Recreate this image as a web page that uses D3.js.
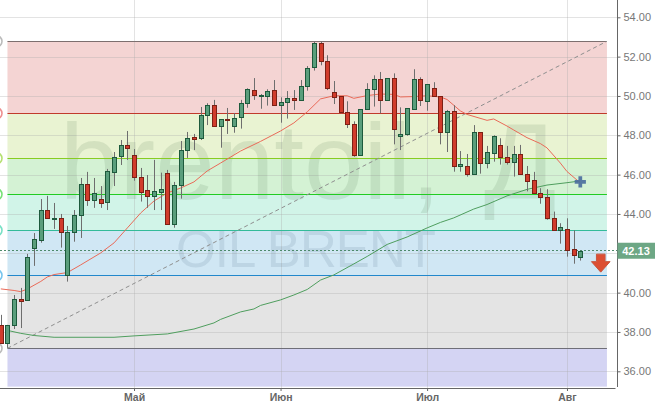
<!DOCTYPE html>
<html><head><meta charset="utf-8">
<script src="https://cdnjs.cloudflare.com/ajax/libs/d3/7.8.5/d3.min.js"></script>
<style>html,body{margin:0;padding:0;background:#fff;overflow:hidden}svg{display:block}text{font-family:"Liberation Sans",Arial,sans-serif}</style>
</head><body><svg id="c" width="664" height="409"></svg>
<script>
const opens=[38.36,37.46,38.32,39.66,39.59,42.24,42.69,44.19,43.75,43.78,40.86,43.10,43.91,45.51,44.68,44.75,44.57,46.10,46.91,47.49,46.98,45.87,45.21,44.88,45.13,46.07,43.48,45.46,47.24,47.91,47.83,49.02,49.53,48.44,48.81,48.44,48.92,49.63,50.29,50.05,50.01,50.29,49.53,49.68,49.88,49.78,50.49,51.46,52.68,51.76,50.19,49.98,49.17,48.56,46.98,49.32,50.34,50.85,49.78,50.90,47.93,48.03,49.32,50.85,49.73,50.39,49.98,48.15,49.22,46.43,46.43,46.02,48.15,46.58,47.09,47.49,46.88,46.63,47.04,46.02,45.71,45.05,44.85,43.78,43.17,43.22,42.21,41.83];
const closes=[37.46,38.36,39.66,39.54,41.80,42.71,44.19,43.80,43.80,43.05,43.07,43.95,45.51,44.68,45.05,44.57,46.17,46.88,47.49,47.32,45.85,45.13,44.88,45.15,45.26,43.48,45.46,47.24,47.85,47.83,49.02,49.53,48.46,48.81,48.74,48.87,49.63,50.34,50.03,50.05,50.24,49.53,49.68,49.88,49.78,50.49,51.41,52.68,51.76,50.39,49.93,49.17,48.56,46.98,49.32,50.34,50.85,49.78,50.90,48.31,48.05,49.37,50.85,49.78,50.59,49.98,48.15,49.22,46.43,46.53,46.02,48.15,46.58,47.14,47.95,46.88,46.63,47.04,46.02,45.66,45.05,44.85,43.78,43.17,43.32,42.15,41.88,42.13];
const highs=[38.87,38.36,39.88,40.24,41.97,43.03,44.76,44.92,44.56,44.00,43.39,44.20,45.83,46.14,45.83,45.42,46.29,47.15,47.76,48.22,47.30,46.34,45.98,46.75,46.10,46.24,45.63,47.71,48.17,48.07,49.44,49.63,49.80,48.81,49.39,49.13,49.80,50.39,50.91,50.10,50.34,50.81,49.93,50.25,50.30,50.81,51.52,52.76,52.76,52.07,50.76,49.98,49.73,48.71,49.32,50.65,51.05,51.22,50.90,51.15,49.42,49.37,51.36,50.95,50.59,50.70,49.98,49.29,49.53,47.20,47.05,48.52,48.15,47.46,48.00,47.85,47.46,47.46,47.51,46.44,46.14,45.31,45.26,44.12,43.53,43.78,43.17,42.13];
const lows=[37.46,37.19,38.15,38.20,39.59,41.36,42.54,43.75,43.24,42.29,40.56,42.59,42.78,44.41,44.31,44.31,44.20,45.42,46.49,46.75,45.69,44.63,44.31,44.20,44.20,43.48,43.30,44.78,46.85,47.25,47.76,48.52,48.46,47.37,48.07,48.13,48.34,49.40,49.80,49.35,49.51,49.51,48.64,48.85,49.29,49.78,50.27,51.29,51.56,50.30,49.59,49.12,48.37,46.91,46.98,49.32,49.46,49.12,49.78,47.54,47.25,47.98,49.32,49.49,49.25,49.98,47.54,47.15,46.15,46.15,45.90,46.02,46.05,46.32,46.66,46.51,46.51,45.90,46.02,45.15,45.05,44.52,43.71,43.17,42.49,41.83,41.47,41.63];
const ma20Index=[0,2,3,4,6,7,8,10,12,15,17,19,21,23,25,27,29,31,33,36,39,42,44,46,48,50,52,53,55,57,59,60,62,64,66,67,69,70,73,74,76,77,79,81,82,84,85,87];
const ma20Values=[40.19,40.11,40.05,40.19,40.57,40.80,40.92,41.02,41.41,42.02,42.53,43.29,44.05,44.66,45.07,45.32,45.63,46.19,46.59,47.20,47.69,48.22,48.63,49.19,49.85,50.01,50.01,49.88,50.02,50.10,50.08,49.95,49.97,50.01,49.95,49.82,49.24,49.06,48.76,48.83,48.47,48.27,47.88,47.58,47.36,46.59,46.16,45.58];
const ma100Index=[1,3,5,8,17,20,25,29,32,33,36,38,39,42,44,46,48,50,53,55,58,61,64,66,68,71,73,76,79,82,85,87];
const ma100Values=[38.08,37.93,37.82,37.73,37.73,37.80,37.90,38.15,38.46,38.64,39.02,39.17,39.35,39.63,39.88,40.16,40.64,40.90,41.46,41.84,42.45,42.83,43.29,43.57,43.80,44.25,44.48,44.92,45.25,45.47,45.59,45.68];
const priceTicks=[36,38,40,42,44,46,48,50,52,54];
const monthIndex=[20,42,64,85];
const monthLabels=["Май","Июн","Июл","Авг"];
const fibLevels=[52.78,49.12,46.83,45.00,43.17,40.88,37.17,35.22];
const fibFills=["#f4d4d3","#e9f3d2","#d4f2d4","#d1f4e8","#d0e7f4","#e4e4e4","#d4d4f3"];
const fibStrokes=["#7d6f6f","#c0392b","#88cc22","#22cc22","#33bb99","#2288cc","#6f6f78"];
const fibDots=["#bbbbbb","#ee8f8f","#b5e070","#77e077","#77e0c5","#77c5ee","#bbbbbb"];
const fibStart=1,fibEnd=91,lastPrice=42.13;

const svg=d3.select("#c");
const x=d3.scaleLinear().domain([0,87]).range([0.8,580.3]);
const y=d3.scaleLinear().domain([36,54]).range([371.3,17.3]);
const R=617.5,B=388;

// fibonacci bands
const bands=fibFills.map((f,i)=>({f,top:fibLevels[i],bot:fibLevels[i+1]}));
svg.append("g").selectAll("rect").data(bands).join("rect")
 .attr("x",x(fibStart)).attr("width",x(fibEnd)-x(fibStart))
 .attr("y",d=>y(d.top)).attr("height",d=>y(d.bot)-y(d.top)).attr("fill",d=>d.f);

// grid
const grid=svg.append("g").attr("stroke","#aaa").attr("stroke-opacity",.33).attr("stroke-width",1);
grid.selectAll(".h").data(priceTicks).join("line").attr("x1",0).attr("x2",R)
 .attr("y1",d=>Math.round(y(d))+.5).attr("y2",d=>Math.round(y(d))+.5);
grid.selectAll(".v").data(monthIndex).join("line").attr("y1",0).attr("y2",B)
 .attr("x1",d=>Math.round(x(d))+.5).attr("x2",d=>Math.round(x(d))+.5);

// watermarks
svg.append("text").text("brentoil,").attr("x",60).attr("y",199).attr("font-size",107)
 .attr("fill","#3c5f3c").attr("fill-opacity",.12);
svg.append("text").text("Д").attr("x",484).attr("y",199).attr("font-size",107)
 .attr("fill","#3c5f3c").attr("fill-opacity",.12);
svg.append("text").text("OIL BRENT").attr("x",176).attr("y",267).attr("font-size",51)
 .attr("textLength",260).attr("fill","#3c5a78").attr("fill-opacity",.13);

// fib lines
svg.append("g").selectAll("line").data(fibStrokes).join("line")
 .attr("x1",x(fibStart)).attr("x2",x(fibEnd))
 .attr("y1",(d,i)=>Math.round(y(fibLevels[i]))+.5).attr("y2",(d,i)=>Math.round(y(fibLevels[i]))+.5)
 .attr("stroke",d=>d).attr("stroke-width",1);
svg.append("g").selectAll("circle").data(fibDots).join("circle")
 .attr("cx",-3.5).attr("cy",(d,i)=>y(fibLevels[i])).attr("r",5.5)
 .attr("fill","#fff").attr("stroke",d=>d).attr("stroke-width",1.6);

// trend
svg.append("line").attr("x1",x(fibStart)).attr("x2",x(fibEnd)).attr("y1",y(fibLevels[6])).attr("y2",y(fibLevels[0]))
 .attr("stroke","#8f8f8f").attr("stroke-width",1).attr("stroke-dasharray","4 3");

// last price line
svg.append("line").attr("x1",0).attr("x2",R).attr("y1",Math.round(y(lastPrice))-.5).attr("y2",Math.round(y(lastPrice))-.5)
 .attr("stroke","#4d8a6a").attr("stroke-width",1).attr("stroke-dasharray","2 2");

// moving averages
const line=d3.line().x(d=>x(d[0])).y(d=>y(d[1]));
svg.append("path").attr("d",line(d3.zip(ma100Index,ma100Values))).attr("fill","none").attr("stroke","#4f9e5e").attr("stroke-width",1);
svg.append("path").attr("d",line(d3.zip(ma20Index,ma20Values))).attr("fill","none").attr("stroke","#ea6a58").attr("stroke-width",1);

// candles
const candles=opens.map((o,i)=>({i,o,c:closes[i],h:highs[i],l:lows[i]}));
const g=svg.append("g");
const cx=d=>Math.round(x(d.i))+.5;
g.selectAll(".w").data(candles).join("line").attr("x1",cx).attr("x2",cx)
 .attr("y1",d=>y(d.h)).attr("y2",d=>y(d.l)).attr("stroke","#6e6e6e").attr("stroke-width",1);
g.selectAll(".b").data(candles).join("rect")
 .attr("x",d=>cx(d)-2).attr("width",4)
 .attr("y",d=>Math.round(y(Math.max(d.o,d.c)))+.5)
 .attr("height",d=>Math.max(1,Math.round(y(Math.min(d.o,d.c))-y(Math.max(d.o,d.c)))))
 .attr("fill",d=>d.c>=d.o?"#5a9e7c":"#d13c2c")
 .attr("stroke",d=>d.c>=d.o?"#1d5a3c":"#7c2015").attr("stroke-width",1);

// axes (the 42.00 label sits under the last-price tag, as in the reference)
const yAxis=d3.axisRight(y).tickValues(priceTicks).tickFormat(d=>d===42?"":d3.format(".2f")(d)).tickSize(3).tickPadding(3);
const ya=svg.append("g").attr("transform",`translate(${R},0)`).call(yAxis);
ya.select(".domain").remove();
ya.selectAll("line").attr("stroke","#666");
ya.selectAll("text").attr("fill","#777").attr("font-size",11);
const xAxis=d3.axisBottom(x).tickValues(monthIndex).tickFormat((d,i)=>monthLabels[i]).tickSize(3).tickPadding(3);
const xa=svg.append("g").attr("transform",`translate(0,${B})`).call(xAxis);
xa.select(".domain").remove();
xa.selectAll("line").attr("stroke","#666");
xa.selectAll("text").attr("fill","#666").attr("font-size",10.5).attr("font-weight","bold");
svg.append("line").attr("x1",0).attr("x2",R-2).attr("y1",B+.5).attr("y2",B+.5).attr("stroke","#666");
svg.append("line").attr("x1",R).attr("x2",R).attr("y1",0).attr("y2",B-1).attr("stroke","#666");

// last price tag
svg.append("rect").attr("x",R).attr("y",y(lastPrice)-8).attr("width",37.5).attr("height",16).attr("fill","#6da785");
svg.append("text").text(d3.format(".2f")(lastPrice)).attr("x",R+18.5).attr("y",y(lastPrice)+4)
 .attr("text-anchor","middle").attr("fill","#fff").attr("font-size",11).attr("font-weight","bold");

// signal markers
const pcx=x(87),pcy=y(ma100Values[ma100Values.length-1])+1;
svg.append("path").attr("transform",`translate(${pcx},${pcy})`)
 .attr("d",d3.symbol(d3.symbolCross,70)()).attr("fill","#4b6f9e").attr("fill-opacity",.92);
const ax=x(90.07),ay=y(41.5);
const arrow=d3.path();
[[-4.3,-9],[4.3,-9],[4.3,-1.5],[9.3,-1.5],[0,9],[-9.3,-1.5],[-4.3,-1.5]].forEach((p,i)=>i?arrow.lineTo(p[0],p[1]):arrow.moveTo(p[0],p[1]));
arrow.closePath();
svg.append("path").attr("transform",`translate(${ax},${ay})`).attr("d",arrow.toString())
 .attr("fill","#dc4f33").attr("stroke","#c9573f").attr("stroke-width",1);
</script></body></html>
